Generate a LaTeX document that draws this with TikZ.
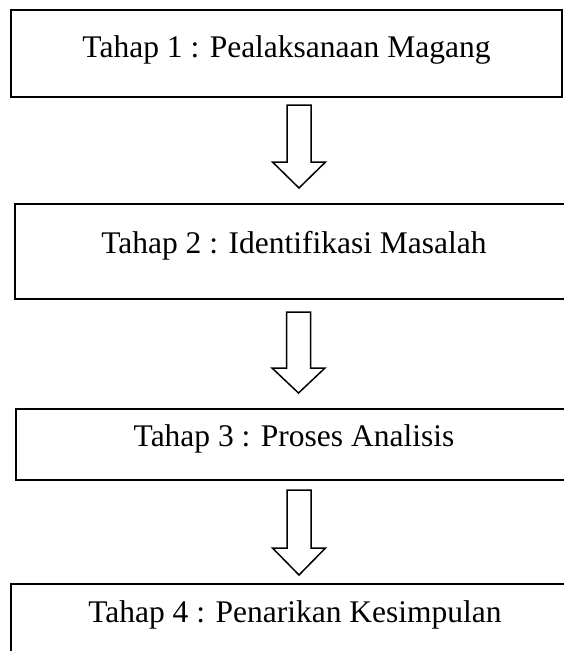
\documentclass[tikz,border=0pt]{standalone}
\usepackage{fontspec}
\setmainfont{Liberation Serif}
\begin{document}
\begin{tikzpicture}[x=1pt,y=-1pt,
  stagebox/.style={draw=black, line width=2pt, inner sep=0pt, anchor=base,
    font=\fontsize{31.5}{36}\selectfont},
  blockarrow/.style={draw=black, line width=1.5pt, fill=white, line join=miter}]
\useasboundingbox (0,0) rectangle (564,651);
\clip (0,0) rectangle (564,651);
\fill[white] (0,0) rectangle (564,651);
% boxes
\node[stagebox, minimum width=551pt, text height=47pt, text depth=40pt] (b1) at (286.5,57) {Tahap 1 : Pealaksanaan Magang};
\node[stagebox, minimum width=558pt, text height=49pt, text depth=46pt] (b2) at (294,253) {Tahap 2 : Identifikasi Masalah};
\node[stagebox, minimum width=556pt, text height=37pt, text depth=34pt] (b3) at (294,446) {Tahap 3 : Proses Analisis};
\node[stagebox, minimum width=568pt, text height=38pt, text depth=60pt] (b4) at (295,622) {Tahap 4 : Penarikan Kesimpulan};
% arrows
\coordinate (a1) at (299,105);
\coordinate (a2) at (298.5,312);
\coordinate (a3) at (299,490);
\draw[blockarrow] (a1) ++(-12,0) -- ++(24,0) -- ++(0,57) -- ++(14.5,0) -- ++(-26.5,26) -- ++(-26.5,-26) -- ++(14.5,0) -- cycle;
\draw[blockarrow] (a2) ++(-12,0) -- ++(24,0) -- ++(0,56) -- ++(14.5,0) -- ++(-26.5,25) -- ++(-26.5,-25) -- ++(14.5,0) -- cycle;
\draw[blockarrow] (a3) ++(-12,0) -- ++(24,0) -- ++(0,58) -- ++(14.5,0) -- ++(-26.5,27) -- ++(-26.5,-27) -- ++(14.5,0) -- cycle;
\end{tikzpicture}
\end{document}
